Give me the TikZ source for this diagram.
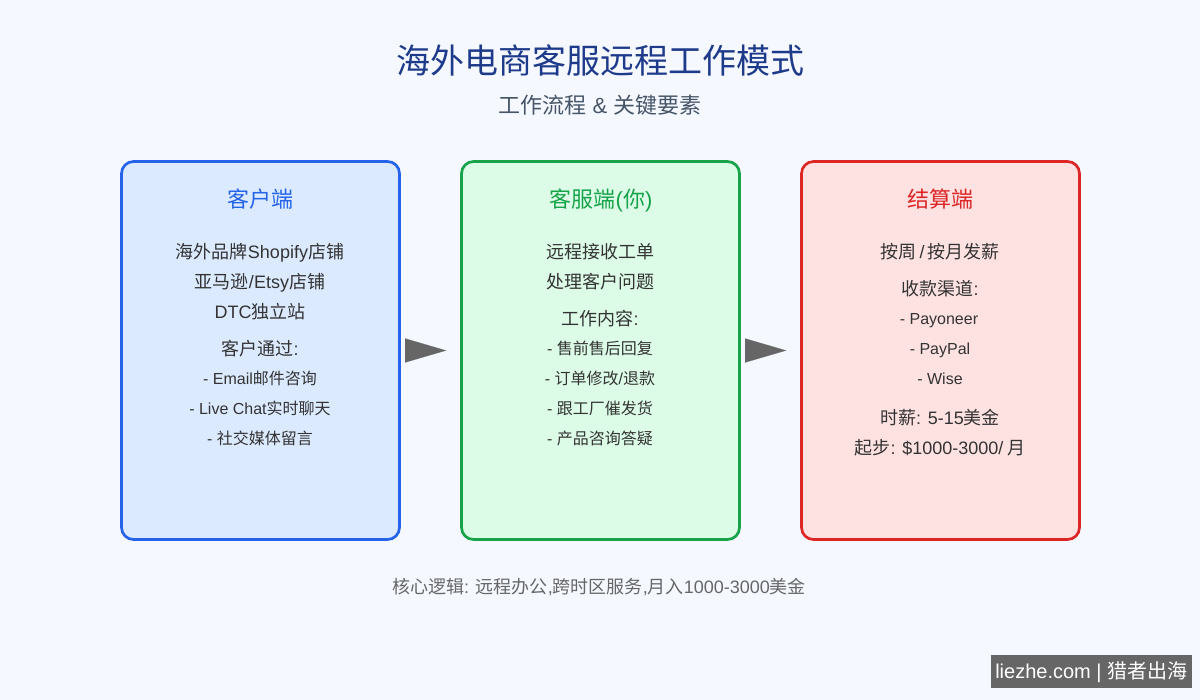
\documentclass[tikz,border=0pt]{standalone}
\usepackage{xcolor}
\usepackage{fontspec}
\usetikzlibrary{arrows.meta}
\setmainfont{Liberation Sans}
\newfontfamily\cjk{Noto Sans CJK SC}
\newcommand{\zh}[1]{{\cjk #1}}
\definecolor{pagebg}{HTML}{F5F9FF}
\definecolor{titleblue}{HTML}{1E3A8A}
\definecolor{subgray}{HTML}{475569}
\definecolor{bodygray}{HTML}{333333}
\definecolor{footgray}{HTML}{666666}
\definecolor{clientblue}{HTML}{2563EB}
\definecolor{clientfill}{HTML}{DBEAFE}
\definecolor{agentgreen}{HTML}{16A34A}
\definecolor{agentfill}{HTML}{DCFCE7}
\definecolor{payred}{HTML}{DC2626}
\definecolor{payfill}{HTML}{FEE2E2}
\tikzset{
  card/.style={draw=#1, line width=2pt, rounded corners=9pt, minimum width=278\pxu, minimum height=378\pxu, inner sep=0pt},
  head/.style={anchor=base, inner sep=0pt, font=\fontsize{16.5}{20}\selectfont, text=#1},
  line/.style={anchor=base, inner sep=0pt, font=\fontsize{13.5}{16}\selectfont, text=bodygray},
  item/.style={anchor=base, inner sep=0pt, font=\fontsize{12}{14}\selectfont, text=bodygray},
  flow/.style={-{Triangle[length=30.75pt, width=18pt]}, line width=0.1pt, draw=footgray, fill=footgray, shorten <=3.5pt, shorten >=10.5pt},
}
\newcommand{\pxu}{*0.75pt}
\begin{document}
\begin{tikzpicture}[x=0.75pt, y=-0.75pt]
\useasboundingbox (0,0) rectangle (1200,700);
\fill[pagebg] (0,0) rectangle (1200,700);

% Title
\node[anchor=base, inner sep=0pt, text=titleblue, font=\fontsize{25.5}{30}\selectfont] (title) at (600,73.5) {\zh{海外电商客服远程工作模式}};
\node[anchor=base, inner sep=0pt, text=subgray, font=\fontsize{16.5}{20}\selectfont] (subtitle) at (600,113) {\zh{工作流程} \& \zh{关键要素}};

% Cards
\node[card=clientblue, fill=clientfill] (client) at (260.5,350.5) {};
\node[card=agentgreen, fill=agentfill] (agent) at (600.5,350.5) {};
\node[card=payred, fill=payfill] (pay) at (940.5,350.5) {};

\draw[flow] (client.east) -- (agent.west);
\draw[flow] (agent.east) -- (pay.west);

% Client column
\node[head=clientblue] (clienthead) at (260,207) {\zh{客户端}};
\node[line] (client1) at (260,258) {\zh{海外品牌}Shopify\zh{店铺}};
\node[line] (client2) at (260,288) {\zh{亚马逊}/Etsy\zh{店铺}};
\node[line] (client3) at (260,318) {DTC\zh{独立站}};
\node[line] (client4) at (260,355) {\zh{客户通过}:};
\node[item] (client5) at (260,384) {- Email\zh{邮件咨询}};
\node[item] (client6) at (260,414) {- Live Chat\zh{实时聊天}};
\node[item] (client7) at (260,444) {- \zh{社交媒体留言}};

% Agent column
\node[head=agentgreen] (agenthead) at (601,207) {\zh{客服端}(\zh{你})};
\node[line] (agent1) at (600,258) {\zh{远程接收工单}};
\node[line] (agent2) at (600,288) {\zh{处理客户问题}};
\node[line] (agent3) at (600,325) {\zh{工作内容}:};
\node[item] (agent4) at (600,354) {- \zh{售前售后回复}};
\node[item] (agent5) at (600,384) {- \zh{订单修改}/\zh{退款}};
\node[item] (agent6) at (600,414) {- \zh{跟工厂催发货}};
\node[item] (agent7) at (600,444) {- \zh{产品咨询答疑}};

% Pay column
\node[head=payred] (payhead) at (940,207) {\zh{结算端}};
\node[line] (pay1) at (940,258) {\zh{按周}\,/\,\zh{按月发薪}};
\node[line] (pay2) at (940,295) {\zh{收款渠道}:};
\node[item] (pay3) at (939,324) {- Payoneer};
\node[item] (pay4) at (940,354) {- PayPal};
\node[item] (pay5) at (940,384) {- Wise};
\node[line] (pay6) at (940,424) {\zh{时薪}: 5-15\zh{美金}};
\node[line] (pay7) at (940,454) {\zh{起步}: \$1000-3000/\hspace{3pt}\zh{月}};

% Footer
\node[anchor=base, inner sep=0pt, text=footgray, font=\fontsize{13.5}{16}\selectfont] (footer) at (599,593) {\zh{核心逻辑}: \zh{远程办公},\zh{跨时区服务},\zh{月入}1000-3000\zh{美金}};

% Watermark
\node[fill=footgray, text=white, anchor=north east, inner sep=0pt, minimum width=201\pxu, minimum height=33\pxu, font=\fontsize{15}{18}\selectfont] (mark) at (1192,655) {\raisebox{-1.5pt}{liezhe.com | \zh{猎者出海}}};
\end{tikzpicture}
\end{document}
